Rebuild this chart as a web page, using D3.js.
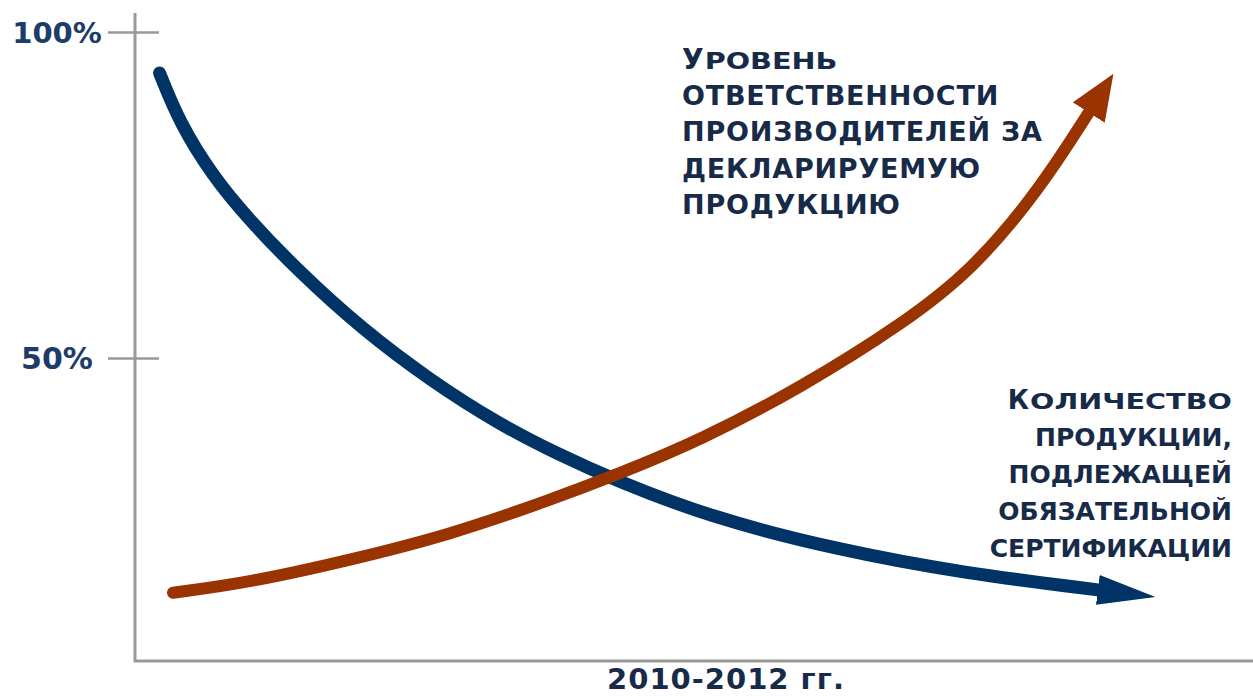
<!DOCTYPE html>
<html>
<head>
<meta charset="utf-8">
<script src="https://cdn.jsdelivr.net/npm/d3@7"></script>
<style>
body { margin: 0; background: #fff; }
text { font-family: "DejaVu Sans", sans-serif; font-weight: bold; }
</style>
</head>
<body>
<svg id="chart" width="1253" height="696"></svg>
<script>
// Values (x: share of the period, y: percent):
var tickValues = [50, 100];
var tickLabels = ['50%', '100%'];
var periodLabel = '2010-2012 гг.';

var quantityX = [2.2, 4.0, 7.0, 10.0, 14.5, 20.4, 26.4, 32.4, 38.0, 42.9, 51.4, 62.8, 74.1, 86.3];
var quantityY = [93.7, 86.0, 77.8, 71.6, 63.5, 54.3, 46.6, 40.0, 35.1, 31.3, 25.6, 20.6, 17.0, 14.4];
var responsibilityX = [3.4, 10.3, 19.2, 28.2, 37.1, 43.1, 50.6, 59.7, 68.8, 74.9, 80.9, 85.4];
var responsibilityY = [14.0, 15.6, 19.0, 22.9, 28.2, 32.1, 37.4, 45.6, 55.4, 63.5, 75.8, 87.9];

var responsibilityLabel = ['Уровень', 'ответственности', 'производителей за', 'декларируемую', 'продукцию'];
var quantityLabel = ['Количество', 'продукции,', 'подлежащей', 'обязательной', 'сертификации'];

var svg = d3.select('#chart');
var x = d3.scaleLinear().domain([0, 100]).range([135, 1253]);
var y = d3.scaleLinear().domain([0, 100]).range([684, 32]);

var axisColor = '#999999';
var textColor = '#172a48';

// Axes frame:
svg.append('line').attr('x1', 135).attr('x2', 135).attr('y1', 13).attr('y2', 662)
   .attr('stroke', axisColor).attr('stroke-width', 3);
svg.append('line').attr('x1', 134).attr('x2', 1253).attr('y1', 661).attr('y2', 661)
   .attr('stroke', axisColor).attr('stroke-width', 3);

// Ticks crossing the vertical axis:
var yAxis = svg.append('g').attr('transform', 'translate(135,0)')
    .call(d3.axisLeft(y).tickValues(tickValues).tickFormat((d, i) => tickLabels[i]).tickSize(27));
yAxis.select('.domain').remove();
yAxis.selectAll('.tick line').attr('x1', 24).attr('stroke', axisColor).attr('stroke-width', 2.5);
yAxis.selectAll('.tick text')
     .attr('x', -78).attr('dy', '0.36em')
     .attr('text-anchor', 'middle')
     .attr('fill', '#1d3c6a')
     .style('font-family', '"DejaVu Sans", sans-serif')
     .style('font-weight', 'bold')
     .style('font-size', (d) => d === 100 ? '29px' : '30px');

// Arrow heads:
var defs = svg.append('defs');
function marker(id, len, half, color) {
    defs.append('marker')
        .attr('id', id)
        .attr('markerUnits', 'userSpaceOnUse')
        .attr('viewBox', '0 ' + (-half) + ' ' + len + ' ' + (2 * half))
        .attr('markerWidth', len).attr('markerHeight', 2 * half)
        .attr('refX', 2).attr('refY', 0)
        .attr('orient', 'auto')
        .append('path')
        .attr('d', 'M0,' + (-half) + 'L' + len + ',0L0,' + half + 'Z')
        .attr('fill', color);
}
marker('arrow-blue', 58, 15, '#003366');
marker('arrow-red', 46, 19, '#993300');

var line = d3.line().x((d) => x(d[0])).y((d) => y(d[1])).curve(d3.curveBasis);

svg.append('path')
   .datum(d3.zip(quantityX, quantityY))
   .attr('d', line)
   .attr('fill', 'none').attr('stroke', '#003366').attr('stroke-width', 13)
   .attr('stroke-linecap', 'round')
   .attr('marker-end', 'url(#arrow-blue)');

svg.append('path')
   .datum(d3.zip(responsibilityX, responsibilityY))
   .attr('d', line)
   .attr('fill', 'none').attr('stroke', '#993300').attr('stroke-width', 12)
   .attr('stroke-linecap', 'round')
   .attr('marker-end', 'url(#arrow-red)');

// First line of a label: capital + wide small caps
function smallCapsLine(s, px, py, anchor, size, stretch) {
    var g = svg.append('g').attr('fill', textColor);
    var first = g.append('text').style('font-size', (size * 1.04) + 'px').text(s[0]);
    var rest = g.append('text').style('font-size', (size * 0.85) + 'px').text(s.slice(1).toUpperCase());
    var w1 = first.node().getComputedTextLength();
    var w2 = rest.node().getComputedTextLength() * stretch;
    var x0 = anchor === 'end' ? px - w1 - w2 - 1 : px;
    first.attr('x', x0).attr('y', py);
    rest.attr('transform', 'translate(' + (x0 + w1 + 1) + ',' + py + ') scale(' + stretch + ',1)');
}

function label(lines, px, py, anchor, size, gap, spacing, stretch) {
    smallCapsLine(lines[0], px, py, anchor, size, stretch);
    svg.append('text').attr('text-anchor', anchor).attr('fill', textColor)
       .style('font-size', size + 'px')
       .style('letter-spacing', spacing + 'px')
       .selectAll('tspan').data(lines.slice(1)).join('tspan')
       .attr('x', px).attr('y', (d, i) => py + (i + 1) * gap)
       .text((d) => d.toUpperCase());
}
label(responsibilityLabel, 682, 69, 'start', 27, 36.2, 0.8, 1.25);
label(quantityLabel, 1232, 409, 'end', 25, 37, 0, 1.35);

svg.append('text')
   .attr('x', 726).attr('y', 689)
   .attr('text-anchor', 'middle')
   .attr('fill', textColor)
   .style('font-size', '29px')
   .style('letter-spacing', '1px')
   .text(periodLabel);
</script>
</body>
</html>
